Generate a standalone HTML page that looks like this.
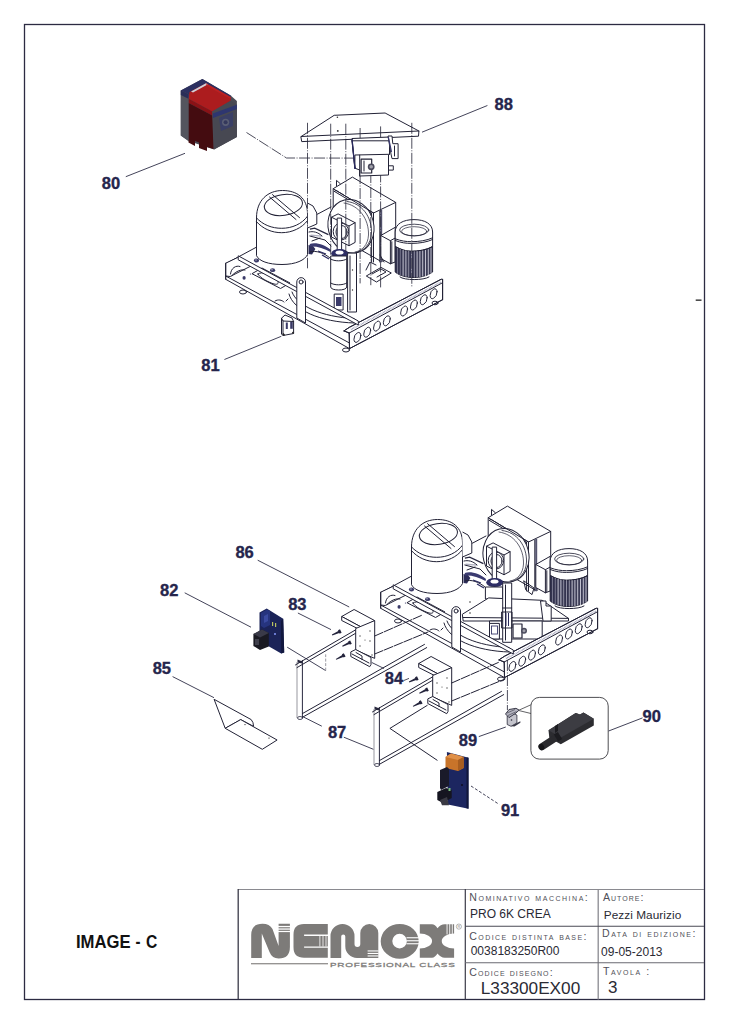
<!DOCTYPE html>
<html><head><meta charset="utf-8">
<style>
html,body{margin:0;padding:0;background:#fff;}
body{width:729px;height:1024px;overflow:hidden;position:relative;font-family:"Liberation Sans",sans-serif;}
svg{position:absolute;left:0;top:0;}
.lbl{font-family:"Liberation Sans",sans-serif;font-weight:bold;font-size:16.5px;fill:#25254c;stroke:#25254c;stroke-width:0.35;}
.ld{stroke:#2e2e46;stroke-width:0.9;fill:none;}
.sc{font-family:"Liberation Sans",sans-serif;font-size:10.6px;fill:#505058;font-variant:small-caps;letter-spacing:1px;}
.tv{font-family:"Liberation Sans",sans-serif;font-size:12px;fill:#2a2a34;}
.m{stroke:#222236;stroke-width:1;fill:none;stroke-linejoin:round;stroke-linecap:round;}
.mf{stroke:#222236;stroke-width:1;fill:#fff;stroke-linejoin:round;}
.dd{stroke:#2e2e40;stroke-width:0.85;fill:none;stroke-dasharray:11 1.5 1 1.5;}
</style></head>
<body>
<svg width="729" height="1024" viewBox="0 0 729 1024">


<g>
<!-- back rail (hidden mostly) -->
<path class="m" d="M226.2,263.5 L317.6,214.1 L331,207"/>
<!-- gearbox -->
<path class="mf" d="M333.2,188.7 L352.4,177.1 L395.7,202.4 L395.7,236 L382,244 L382,262 L333.2,234 Z"/>
<path class="m" d="M333.2,188.7 L373.5,213 L395.7,202.4 M373.5,213 L373.5,262 M379.8,211 L379.8,262 M334.3,191.4 L371.6,213.4 M371.6,213.4 L371.6,262 M336.5,186 L336.5,180.4 L340.3,183.7"/>
<path d="M381.2,210 L381.2,262" stroke="#555570" stroke-width="2"/>
<!-- fan disk -->
<ellipse class="mf" cx="351" cy="226.3" rx="22.8" ry="27" transform="rotate(-14 351 226.3)"/>
<path class="m" d="M347,201.5 C362,203 372,217 371.5,233 C371,244 364,251 356,252.5" stroke-width="0.5" stroke-opacity="0.8"/>
<path class="m" d="M344,203 C359,205 369,219 368.5,235 C368,245 362,251 355,252" stroke-width="0.5" stroke-opacity="0.7"/>
<path class="m" d="M334.3,191.4 L336,190.4 L373.5,213" stroke-width="0.6"/>
<!-- gear motor on disk -->
<path class="mf" d="M331.5,217.2 L338.1,213.9 L355.1,222.7 L355.1,242.4 L349,245.7 L331.5,237 Z"/>
<path class="m" d="M331.5,217.2 L349,226 L355.1,222.7 M349,226 L349,245.7"/>
<ellipse class="mf" cx="340.9" cy="231.5" rx="7.7" ry="8.5"/>
<ellipse class="m" cx="341.5" cy="232" rx="5.5" ry="6.5" stroke-width="0.5"/>
<!-- compressor -->
<path class="mf" d="M256.5,218 C256.5,200 268,190.5 282.5,190.5 C297,190.5 307.5,198 307.5,214 L307.5,254.6 C305,260 296,264.5 282,264.5 C268,264.5 259,261 256.5,255.7 Z"/>
<path class="m" d="M256.5,217.9 C263,225 272,228.3 281.7,228.3 C292,228.3 302,224 307.5,216.2 M256.5,221.7 C263,229 272,232.7 281.7,232.7 C292,232.7 302,228 307.5,220.6"/>
<ellipse class="m" cx="283.4" cy="205" rx="19.2" ry="10.4" transform="rotate(-8 283.4 205)"/>
<path class="m" d="M269.5,197 L296,219.5 M272.5,194.6 L299.5,217.6"/>
<path class="mf" d="M307.5,203 L313,206 L316.8,213 L316.8,224 L307.5,228"/>
<path d="M309.9,229.1 L314.7,228.1 L328.4,234.6" stroke="#282840" stroke-width="1.3" fill="none"/>
<path d="M310.6,234.6 L322.2,235.5 L322.2,236.7 L310.6,236" fill="#b0b0c0"/>
<path d="M308.5,244.9 L313,246 L315.4,249 L312,254.5 L308.5,254" fill="#2e2e5a"/>
<!-- motor terminal box -->
<path class="mf" d="M380.8,235.5 L395.2,227.3 L395.2,262 L390.4,263.8 L380.8,258.5 Z"/>
<path class="m" d="M380.8,235.5 L390.4,240.7 L395.2,238 M390.4,240.7 L390.4,263.8 M391.8,241.7 L391.8,262.8"/>
<!-- motor -->
<path class="mf" d="M395.2,246.5 L395.2,232 C395.2,224 403,219.6 414,219.6 C425,219.6 432.6,224 432.6,232 L432.6,246.5 C427,250 418,251.3 411.5,251.3 C407,251.3 401,250 395.2,246.5 Z"/>
<path d="M395.2,246.5 C401,250 407,251.3 411.5,251.3 C418,251.3 427,250 432.6,246.5 L432.6,272 C427,276 420,277.5 414,277.5 C407,277.5 400,276 395.2,272 Z" fill="#3c3c56" stroke="#222236" stroke-width="1"/>
<g stroke="#d0d0dc" stroke-width="0.9">
<path d="M397.5,248 L397.5,273.5 M400.3,249 L400.3,274.8 M403.1,249.8 L403.1,275.8 M405.9,250.4 L405.9,276.5 M408.7,250.9 L408.7,277 M411.5,251.2 L411.5,277.3 M414.3,251.3 L414.3,277.4 M417.1,251.2 L417.1,277.3 M419.9,251 L419.9,277 M422.7,250.6 L422.7,276.6 M425.5,250 L425.5,276 M428.3,249.2 L428.3,275 M431,248 L431,273.5"/>
</g>
<path d="M395.2,247 L402,250 L402,275.5 L395.2,272 Z" fill="#2a2a48" opacity="0.5"/>
<path d="M408,251 L416,251.3 L416,277.4 L408,277 Z" fill="#202040" opacity="0.3"/>
<ellipse class="m" cx="414.2" cy="230" rx="14.6" ry="5.8" stroke-width="0.6" stroke-opacity="0.8"/>
<ellipse class="m" cx="414.2" cy="231.3" rx="12.6" ry="4.6" stroke-width="0.4" stroke-opacity="0.7"/>
<path class="m" d="M395.2,238.8 C401,241 406,241.7 411.5,241.7 C419,241.7 427,240.5 432.6,237.8" stroke-width="0.7"/>
<path class="m" d="M395.2,240.5 C401,242.8 406,243.4 411.5,243.4 C419,243.4 427,242.2 432.6,239.5" stroke-width="0.5"/>
<path class="m" d="M400,277 C404,280.5 424,280.5 429,277"/>
<!-- central shaft and collar -->
<path class="mf" d="M337.2,218.1 L341.6,218.1 L341.6,252 L337.2,252 Z"/>
<ellipse cx="339.7" cy="253.5" rx="8.5" ry="4.5" fill="#2e2e66"/>
<ellipse cx="339.5" cy="252.5" rx="4" ry="2" fill="#fff"/>
<!-- pipes between compressor and center -->
<path d="M309.8,244 C316,242 325,245 331,250 L330.5,252 C324,248 316,246 309.8,246.5 Z" fill="#3a3a70"/>
<path class="m" d="M309.8,236 L325,240 L331,246 M310,252 C316,250 324,253 330,258 M312,241 L320,238 M309,232 C313,231 318,232 322,236"/>
<path d="M318,251 L326,254 M322,255 L329,259" stroke="#2a2a60" stroke-width="1.3"/>
</g>
<g id="topcenter">
<!-- central cylinder -->
<path class="mf" d="M330.7,256 L346.7,256 L346.7,287 C346.7,291 330.7,291 330.7,287 Z"/>
<path class="m" d="M330.7,259 C334,261.5 343,261.5 346.7,259 M330.7,283 C334,285.5 343,285.5 346.7,283"/>
<path class="mf" d="M347.6,253.1 L356.5,253.1 L356.5,312 L347.6,312 Z"/>
<path class="m" d="M350,256 L350,310 M356.5,253.1 L359,251.5"/>
<circle cx="352.5" cy="270" r="0.7" fill="#333"/>
<circle cx="352.5" cy="290" r="0.7" fill="#333"/>
<path class="mf" d="M334.2,294.1 L343.1,294.1 L343.1,310 L334.2,310 Z"/>
<rect x="336" y="297" width="5.5" height="9" fill="#3a3a6a"/>
<!-- small bracket near motor -->
<path class="mf" d="M366.3,276 L381,267.4 L391.3,273 L376.5,282 Z"/>
<path class="m" d="M372,274 L381,269 L386,272 L377,277"/>
<path class="m" d="M366,270 L370,262 L376,265 M380,255 L384,262"/>
</g>
<g>
<!-- floor plate / drip arc -->
<path class="m" d="M289,294 C293,310 320,322 354.4,323"/>
<path class="m" d="M292,292 C297,306 322,317 354,318.5"/>
<!-- left rail -->
<!-- tray floor details -->
<path class="m" d="M252.3,273.5 L262,268 L290,283 L280.9,288.3 Z M258,274 C262,271 270,274 276,279 C280,283 278,285 274,284 C268,282 260,278 258,274 Z" stroke-width="0.7"/>
<g fill="#3a3a68">
<ellipse cx="256.5" cy="260.5" rx="2.6" ry="1.9"/>
<ellipse cx="272.6" cy="270.2" rx="2.6" ry="1.9"/>
<ellipse cx="244.1" cy="277.9" rx="1.6" ry="1.8"/>
<ellipse cx="250.5" cy="274" rx="0.7" ry="0.5"/>
</g>
<g fill="#c8c8d8"><circle cx="256" cy="260" r="0.7"/><circle cx="272" cy="269.7" r="0.7"/></g>
<path class="m" d="M275,301 C278,299 282,300 284,302 M286,301 L288,299"/>
<path class="mf" d="M225.7,263.2 L237.6,257.5 L251,264.5 L251,266 L230.2,276.5 L225.7,276 Z"/>
<path class="m" d="M230.5,274 C231,268 236,265 240,266.5 M232,275.5 C236,271 242,269 245,270" stroke-width="0.7"/>
<path class="mf" d="M225.7,276 L349.5,343 L349.5,348.6 L225.7,279.3 Z"/>
<path class="m" d="M225.7,263.2 L225.7,279.3"/>
<!-- right rail -->
<path class="mf" d="M343.9,330.9 L349.6,327.2 L441.1,279.3 L442.6,279.3 L442.6,299.7 L349.5,348.6 L349.2,333 Z"/>
<path class="m" d="M343.9,330.9 L349.6,327.2 L441.1,279.3 M349.2,333 L442,283 M349.5,348.6 L442.6,299.7 M442.6,279.3 L442.6,299.7 M349.2,333 L349.5,348.6 M343.9,330.9 L349.2,333"/>
<path d="M351,329.5 L441,282" stroke="#8888a8" stroke-width="1.6" stroke-dasharray="0.6 0.8"/>
<g class="m" stroke-width="0.9">
<circle r="4.6" transform="matrix(0.75,-0.42,0,1,357.4,337.4)"/>
<circle r="4.6" transform="matrix(0.75,-0.42,0,1,367.2,332.2)"/>
<circle r="4.6" transform="matrix(0.75,-0.42,0,1,377,326.1)"/>
<circle r="4.6" transform="matrix(0.75,-0.42,0,1,386.8,320.8)"/>
<circle r="4.6" transform="matrix(0.75,-0.42,0,1,404.1,311)"/>
<circle r="4.6" transform="matrix(0.75,-0.42,0,1,413.9,305)"/>
<circle r="4.6" transform="matrix(0.75,-0.42,0,1,423.7,299.7)"/>
<circle r="4.6" transform="matrix(0.75,-0.42,0,1,433.6,293.7)"/>
</g>
<!-- crossbar -->
<path class="mf" d="M238.2,255.8 L358.3,321 L358.3,325 L238.2,259.8 Z"/>
<!-- vertical bracket on bar -->
<path class="mf" d="M296.8,282 A4.35 4.35 0 0 1 305.5,282 L305.5,323 L296.8,318 Z"/>
<circle class="m" cx="301.1" cy="282" r="2"/>
<!-- feet -->
<ellipse class="m" cx="243" cy="292" rx="3.5" ry="2"/>
<ellipse class="m" cx="346" cy="350" rx="3.5" ry="2"/>
<ellipse class="m" cx="435" cy="303" rx="3" ry="1.8"/>
</g>
<g transform="translate(155,329)">
<!-- back rail (hidden mostly) -->
<path class="m" d="M226.2,263.5 L317.6,214.1 L331,207"/>
<!-- gearbox -->
<path class="mf" d="M333.2,188.7 L352.4,177.1 L395.7,202.4 L395.7,236 L382,244 L382,262 L333.2,234 Z"/>
<path class="m" d="M333.2,188.7 L373.5,213 L395.7,202.4 M373.5,213 L373.5,262 M379.8,211 L379.8,262 M334.3,191.4 L371.6,213.4 M371.6,213.4 L371.6,262 M336.5,186 L336.5,180.4 L340.3,183.7"/>
<path d="M381.2,210 L381.2,262" stroke="#555570" stroke-width="2"/>
<!-- fan disk -->
<ellipse class="mf" cx="351" cy="226.3" rx="22.8" ry="27" transform="rotate(-14 351 226.3)"/>
<path class="m" d="M347,201.5 C362,203 372,217 371.5,233 C371,244 364,251 356,252.5" stroke-width="0.5" stroke-opacity="0.8"/>
<path class="m" d="M344,203 C359,205 369,219 368.5,235 C368,245 362,251 355,252" stroke-width="0.5" stroke-opacity="0.7"/>
<path class="m" d="M334.3,191.4 L336,190.4 L373.5,213" stroke-width="0.6"/>
<!-- gear motor on disk -->
<path class="mf" d="M331.5,217.2 L338.1,213.9 L355.1,222.7 L355.1,242.4 L349,245.7 L331.5,237 Z"/>
<path class="m" d="M331.5,217.2 L349,226 L355.1,222.7 M349,226 L349,245.7"/>
<ellipse class="mf" cx="340.9" cy="231.5" rx="7.7" ry="8.5"/>
<ellipse class="m" cx="341.5" cy="232" rx="5.5" ry="6.5" stroke-width="0.5"/>
<!-- compressor -->
<path class="mf" d="M256.5,218 C256.5,200 268,190.5 282.5,190.5 C297,190.5 307.5,198 307.5,214 L307.5,254.6 C305,260 296,264.5 282,264.5 C268,264.5 259,261 256.5,255.7 Z"/>
<path class="m" d="M256.5,217.9 C263,225 272,228.3 281.7,228.3 C292,228.3 302,224 307.5,216.2 M256.5,221.7 C263,229 272,232.7 281.7,232.7 C292,232.7 302,228 307.5,220.6"/>
<ellipse class="m" cx="283.4" cy="205" rx="19.2" ry="10.4" transform="rotate(-8 283.4 205)"/>
<path class="m" d="M269.5,197 L296,219.5 M272.5,194.6 L299.5,217.6"/>
<path class="mf" d="M307.5,203 L313,206 L316.8,213 L316.8,224 L307.5,228"/>
<path d="M309.9,229.1 L314.7,228.1 L328.4,234.6" stroke="#282840" stroke-width="1.3" fill="none"/>
<path d="M310.6,234.6 L322.2,235.5 L322.2,236.7 L310.6,236" fill="#b0b0c0"/>
<path d="M308.5,244.9 L313,246 L315.4,249 L312,254.5 L308.5,254" fill="#2e2e5a"/>
<!-- motor terminal box -->
<path class="mf" d="M380.8,235.5 L395.2,227.3 L395.2,262 L390.4,263.8 L380.8,258.5 Z"/>
<path class="m" d="M380.8,235.5 L390.4,240.7 L395.2,238 M390.4,240.7 L390.4,263.8 M391.8,241.7 L391.8,262.8"/>
<!-- motor -->
<path class="mf" d="M395.2,246.5 L395.2,232 C395.2,224 403,219.6 414,219.6 C425,219.6 432.6,224 432.6,232 L432.6,246.5 C427,250 418,251.3 411.5,251.3 C407,251.3 401,250 395.2,246.5 Z"/>
<path d="M395.2,246.5 C401,250 407,251.3 411.5,251.3 C418,251.3 427,250 432.6,246.5 L432.6,272 C427,276 420,277.5 414,277.5 C407,277.5 400,276 395.2,272 Z" fill="#3c3c56" stroke="#222236" stroke-width="1"/>
<g stroke="#d0d0dc" stroke-width="0.9">
<path d="M397.5,248 L397.5,273.5 M400.3,249 L400.3,274.8 M403.1,249.8 L403.1,275.8 M405.9,250.4 L405.9,276.5 M408.7,250.9 L408.7,277 M411.5,251.2 L411.5,277.3 M414.3,251.3 L414.3,277.4 M417.1,251.2 L417.1,277.3 M419.9,251 L419.9,277 M422.7,250.6 L422.7,276.6 M425.5,250 L425.5,276 M428.3,249.2 L428.3,275 M431,248 L431,273.5"/>
</g>
<path d="M395.2,247 L402,250 L402,275.5 L395.2,272 Z" fill="#2a2a48" opacity="0.5"/>
<path d="M408,251 L416,251.3 L416,277.4 L408,277 Z" fill="#202040" opacity="0.3"/>
<ellipse class="m" cx="414.2" cy="230" rx="14.6" ry="5.8" stroke-width="0.6" stroke-opacity="0.8"/>
<ellipse class="m" cx="414.2" cy="231.3" rx="12.6" ry="4.6" stroke-width="0.4" stroke-opacity="0.7"/>
<path class="m" d="M395.2,238.8 C401,241 406,241.7 411.5,241.7 C419,241.7 427,240.5 432.6,237.8" stroke-width="0.7"/>
<path class="m" d="M395.2,240.5 C401,242.8 406,243.4 411.5,243.4 C419,243.4 427,242.2 432.6,239.5" stroke-width="0.5"/>
<path class="m" d="M400,277 C404,280.5 424,280.5 429,277"/>
<!-- central shaft and collar -->
<path class="mf" d="M337.2,218.1 L341.6,218.1 L341.6,252 L337.2,252 Z"/>
<ellipse cx="339.7" cy="253.5" rx="8.5" ry="4.5" fill="#2e2e66"/>
<ellipse cx="339.5" cy="252.5" rx="4" ry="2" fill="#fff"/>
<!-- pipes between compressor and center -->
<path d="M309.8,244 C316,242 325,245 331,250 L330.5,252 C324,248 316,246 309.8,246.5 Z" fill="#3a3a70"/>
<path class="m" d="M309.8,236 L325,240 L331,246 M310,252 C316,250 324,253 330,258 M312,241 L320,238 M309,232 C313,231 318,232 322,236"/>
<path d="M318,251 L326,254 M322,255 L329,259" stroke="#2a2a60" stroke-width="1.3"/>
</g>
<g id="lowcenter">
<path class="mf" d="M485.4,587 L502.7,587 L502.7,599 L485.4,599 Z"/>
<!-- installed plate -->
<path class="mf" d="M462.3,614.3 L488.7,597.9 L542.2,600.3 L568.5,618.4 L568.5,621 L463.2,621 Z"/>
<path class="m" d="M463.2,617.5 L568.5,618.4"/>
<circle cx="470" cy="602" r="0.8" fill="#333"/>
<circle cx="470" cy="613" r="0.8" fill="#333"/>
<!-- device under plate -->
<path class="mf" d="M489.5,621 L542.2,621 L542.2,639 L489.5,639 Z"/>
<path class="mf" d="M489.5,623.4 L499.4,623.4 L499.4,639 L489.5,639 Z"/>
<rect x="491.5" y="626" width="6" height="8" fill="none" stroke="#3a3a6a" stroke-width="0.9"/>
<path class="mf" d="M513,624 L522,624 L522,638 L513,638 Z" style="stroke-width:1.2"/>
<circle cx="524" cy="630.8" r="3" fill="#4a4a5c"/>
<circle cx="524" cy="630.8" r="1.5" fill="#a0a0aa"/>
<path class="mf" d="M540.5,601 L546,601 L546,606 L551.2,606 L551.2,621 L543,621 Z"/>
<!-- vertical column -->
<path class="mf" d="M502.7,583 L511.7,583 L511.7,642.3 L502.7,642.3 Z"/>
<path class="m" d="M505.5,585 L505.5,640 M502.7,608 L511.7,608 M502,612 L512,612 L512,628 L502,628 Z"/>
<path d="M506,613 L506,626 M508.5,613 L508.5,626" stroke="#2a2a5a" stroke-width="1"/>
<path class="m" d="M524,581 L534,588 L532,594.6 L526,590 Z"/>
</g>
<g transform="translate(155,329)">
<!-- floor plate / drip arc -->
<path class="m" d="M289,294 C293,310 320,322 354.4,323"/>
<path class="m" d="M292,292 C297,306 322,317 354,318.5"/>
<!-- left rail -->
<!-- tray floor details -->
<path class="m" d="M252.3,273.5 L262,268 L290,283 L280.9,288.3 Z M258,274 C262,271 270,274 276,279 C280,283 278,285 274,284 C268,282 260,278 258,274 Z" stroke-width="0.7"/>
<g fill="#3a3a68">
<ellipse cx="256.5" cy="260.5" rx="2.6" ry="1.9"/>
<ellipse cx="272.6" cy="270.2" rx="2.6" ry="1.9"/>
<ellipse cx="244.1" cy="277.9" rx="1.6" ry="1.8"/>
<ellipse cx="250.5" cy="274" rx="0.7" ry="0.5"/>
</g>
<g fill="#c8c8d8"><circle cx="256" cy="260" r="0.7"/><circle cx="272" cy="269.7" r="0.7"/></g>
<path class="m" d="M275,301 C278,299 282,300 284,302 M286,301 L288,299"/>
<path class="mf" d="M225.7,263.2 L237.6,257.5 L251,264.5 L251,266 L230.2,276.5 L225.7,276 Z"/>
<path class="m" d="M230.5,274 C231,268 236,265 240,266.5 M232,275.5 C236,271 242,269 245,270" stroke-width="0.7"/>
<path class="mf" d="M225.7,276 L349.5,343 L349.5,348.6 L225.7,279.3 Z"/>
<path class="m" d="M225.7,263.2 L225.7,279.3"/>
<!-- right rail -->
<path class="mf" d="M343.9,330.9 L349.6,327.2 L441.1,279.3 L442.6,279.3 L442.6,299.7 L349.5,348.6 L349.2,333 Z"/>
<path class="m" d="M343.9,330.9 L349.6,327.2 L441.1,279.3 M349.2,333 L442,283 M349.5,348.6 L442.6,299.7 M442.6,279.3 L442.6,299.7 M349.2,333 L349.5,348.6 M343.9,330.9 L349.2,333"/>
<path d="M351,329.5 L441,282" stroke="#8888a8" stroke-width="1.6" stroke-dasharray="0.6 0.8"/>
<g class="m" stroke-width="0.9">
<circle r="4.6" transform="matrix(0.75,-0.42,0,1,357.4,337.4)"/>
<circle r="4.6" transform="matrix(0.75,-0.42,0,1,367.2,332.2)"/>
<circle r="4.6" transform="matrix(0.75,-0.42,0,1,377,326.1)"/>
<circle r="4.6" transform="matrix(0.75,-0.42,0,1,386.8,320.8)"/>
<circle r="4.6" transform="matrix(0.75,-0.42,0,1,404.1,311)"/>
<circle r="4.6" transform="matrix(0.75,-0.42,0,1,413.9,305)"/>
<circle r="4.6" transform="matrix(0.75,-0.42,0,1,423.7,299.7)"/>
<circle r="4.6" transform="matrix(0.75,-0.42,0,1,433.6,293.7)"/>
</g>
<!-- crossbar -->
<path class="mf" d="M238.2,255.8 L358.3,321 L358.3,325 L238.2,259.8 Z"/>
<!-- vertical bracket on bar -->
<path class="mf" d="M296.8,282 A4.35 4.35 0 0 1 305.5,282 L305.5,323 L296.8,318 Z"/>
<circle class="m" cx="301.1" cy="282" r="2"/>
<!-- feet -->
<ellipse class="m" cx="243" cy="292" rx="3.5" ry="2"/>
<ellipse class="m" cx="346" cy="350" rx="3.5" ry="2"/>
<ellipse class="m" cx="435" cy="303" rx="3" ry="1.8"/>
</g>




<!-- exploded left parts -->
<g id="set1">
<!-- plate 87 -->
<path d="M297,662 L297,718" stroke="#a0a0a8" stroke-width="1.1"/>
<path d="M302.4,660 L302.4,718.5" stroke="#2a2a40" stroke-width="1"/>
<path d="M297.5,659.5 L302.4,661.5 L302.4,663.5 L297.5,662.5 Z" fill="#2a2a40"/>
<path class="m" d="M295.5,664.9 L360.5,627 M297,667.6 L358.5,631.6" stroke-width="0.8"/>
<path class="m" d="M302.4,717.3 L426.7,647.6 M302.4,713.6 L424.5,644.4" stroke-width="0.8"/>
<ellipse cx="300" cy="718" rx="2.5" ry="1.5" fill="none" stroke="#2a2a40" stroke-width="0.8"/>
<!-- bracket 86 -->
<path class="mf" d="M341.7,616.5 L354.1,609.5 L374.7,620.6 L361.5,627.2 Z"/>
<path class="mf" d="M341.7,616.5 L361.5,627.2 L361.5,630.5 L341.7,620.5 Z"/>
<path class="mf" d="M355.7,628.5 L374.7,620.6 L374.7,658.4 L355.7,650 Z"/>
<path class="mf" d="M350.8,651.9 L355.7,649.5 L371,657.5 L371,664.5 L369.7,666.7 L350.8,656.5 Z"/>
<path class="m" d="M352,654 L369,663 M356,652.5 L362,656 L362,659.5"/>
<g fill="#444"><circle cx="360" cy="636" r="0.7"/><circle cx="370" cy="631" r="0.7"/><circle cx="360" cy="646" r="0.7"/><circle cx="370" cy="641" r="0.7"/><circle cx="365" cy="640" r="0.6"/><circle cx="372" cy="655" r="0.7"/></g>
<!-- screws 83 -->
<g fill="#24243c">
<path d="M332.3,635.6 L339.3,632.9 L339.6,633.7 L341.6,632.7 L340.0,629.3 L338.0,630.2 L338.3,630.9 L331.9,634.6 Z"/>
<path d="M342.6,646.7 L349.5,644.0 L349.8,644.8 L351.8,643.8 L350.2,640.4 L348.2,641.3 L348.5,642.1 L342.2,645.7 Z"/>
<path d="M336.2,659.8 L343.3,656.9 L343.6,657.6 L345.6,656.6 L343.8,653.2 L341.9,654.2 L342.2,654.9 L335.8,659.0 Z"/>
</g>
<!-- explosion lines to machine -->
<path class="m" d="M374.7,636 L422.4,615 M374.7,654 L428,632" stroke-width="0.7" stroke-dasharray="9 1.5"/>
</g>
<g transform="translate(77,47)">
<!-- plate 87 -->
<path d="M297,662 L297,718" stroke="#a0a0a8" stroke-width="1.1"/>
<path d="M302.4,660 L302.4,718.5" stroke="#2a2a40" stroke-width="1"/>
<path d="M297.5,659.5 L302.4,661.5 L302.4,663.5 L297.5,662.5 Z" fill="#2a2a40"/>
<path class="m" d="M295.5,664.9 L360.5,627 M297,667.6 L358.5,631.6" stroke-width="0.8"/>
<path class="m" d="M302.4,717.3 L426.7,647.6 M302.4,713.6 L424.5,644.4" stroke-width="0.8"/>
<ellipse cx="300" cy="718" rx="2.5" ry="1.5" fill="none" stroke="#2a2a40" stroke-width="0.8"/>
<!-- bracket 86 -->
<path class="mf" d="M341.7,616.5 L354.1,609.5 L374.7,620.6 L361.5,627.2 Z"/>
<path class="mf" d="M341.7,616.5 L361.5,627.2 L361.5,630.5 L341.7,620.5 Z"/>
<path class="mf" d="M355.7,628.5 L374.7,620.6 L374.7,658.4 L355.7,650 Z"/>
<path class="mf" d="M350.8,651.9 L355.7,649.5 L371,657.5 L371,664.5 L369.7,666.7 L350.8,656.5 Z"/>
<path class="m" d="M352,654 L369,663 M356,652.5 L362,656 L362,659.5"/>
<g fill="#444"><circle cx="360" cy="636" r="0.7"/><circle cx="370" cy="631" r="0.7"/><circle cx="360" cy="646" r="0.7"/><circle cx="370" cy="641" r="0.7"/><circle cx="365" cy="640" r="0.6"/><circle cx="372" cy="655" r="0.7"/></g>
<!-- screws 83 -->
<g fill="#24243c">
<path d="M332.3,635.6 L339.3,632.9 L339.6,633.7 L341.6,632.7 L340.0,629.3 L338.0,630.2 L338.3,630.9 L331.9,634.6 Z"/>
<path d="M342.6,646.7 L349.5,644.0 L349.8,644.8 L351.8,643.8 L350.2,640.4 L348.2,641.3 L348.5,642.1 L342.2,645.7 Z"/>
<path d="M336.2,659.8 L343.3,656.9 L343.6,657.6 L345.6,656.6 L343.8,653.2 L341.9,654.2 L342.2,654.9 L335.8,659.0 Z"/>
</g>
<!-- explosion lines to machine -->
<path class="m" d="M374.7,636 L422.4,615 M374.7,654 L428,632" stroke-width="0.7" stroke-dasharray="9 1.5"/>
</g>
<!-- PCB 82 dashed -->
<path class="ld" d="M287.2,647.2 L325.7,670.6"/>
<path d="M325.7,670.6 L325.7,654.3" stroke="#909098" stroke-width="0.9" stroke-dasharray="3 1.5"/>
<!-- 84 leader -->
<path class="ld" d="M371.8,662.5 L384,668.5"/>
<path class="dd" d="M403.6,680.6 L409,678.4"/>
<!-- 87 leaders -->
<path class="ld" d="M321.8,726.2 L302.1,716.3 M343.8,737.2 L373.4,749.3"/>
<!-- 91 dashed -->
<path class="m" d="M437.1,760.2 L389.9,728.4 L427.2,705.4" stroke-width="0.8"/>
<!-- PCB 82 -->
<g id="pcb82">
<path d="M259.5,612.5 L266.7,608.4 L283.2,618.7 L284.2,652.6 L281.2,653.6 L259.5,641 Z" fill="#1b2358"/>
<path d="M283.2,618.7 L284.2,652.6 L281.2,653.6 L281,621 Z" fill="#12183e"/>
<path d="M261,613 L267,609.5 L270,611 L270,625 L264,628 L261,626 Z" fill="#26347e"/>
<path d="M264,616 L268,614 L268,621 L264,623 Z" fill="#3a4aa0"/>
<path d="M253.4,634 L262,629.5 L268.8,633 L268.8,646.4 L260,650 L253.4,646 Z" fill="#1a1a22"/>
<path d="M253.4,634 L262,629.5 L268.8,633 L260,637.5 Z" fill="#3a3a48"/>
<rect x="255" y="639" width="4" height="6" fill="#40404c"/>
<rect x="272" y="622" width="1.2" height="4" fill="#b8c060"/>
<rect x="275" y="623" width="1.2" height="4" fill="#b8c060"/>
<rect x="274" y="633" width="2" height="2" fill="#6a7ad0"/>
</g>
<!-- bracket 85 -->
<g id="b85">
<path class="mf" d="M214.1,699.3 L251.2,719.6 Q253.5,722 253.6,726.4 L240.7,719.6 L225.2,728.3 Z"/>
<path class="mf" d="M225.2,728.3 L240.7,719.6 L277.1,740 L262.3,749.3 Z"/>
<circle cx="245" cy="724.6" r="0.7" fill="#333"/>
<circle cx="269" cy="738.1" r="0.7" fill="#333"/>
</g>


<!-- item 89/90 -->
<path class="dd" d="M507.4,660 L507.4,710"/>
<rect x="530.9" y="697.4" width="77.3" height="61.7" rx="8.5" fill="none" stroke="#3a3a3e" stroke-width="0.9"/>
<path d="M530.9,704.8 L519.1,710.1 M531,713.5 L519.1,710.6" stroke="#3a3a3e" stroke-width="0.8" fill="none"/>
<g id="i89">
<path d="M507.2,716 L513.5,713.5 L516.9,715 L516.9,723 L511,726.3 L507.2,724.5 Z" fill="#c4c4cc" stroke="#2a2a3a" stroke-width="0.8"/>
<path d="M511,726.3 L516.9,723 L520.4,721.3 L520.4,722.8 L514.5,726.5 Z" fill="#3a3a48"/>
<path d="M505.5,714 L509,709.5 L516,708.3 L519.1,710.1 L516,713 L509,717.6 Z" fill="#b4b4c0" stroke="#2a2a3a" stroke-width="0.9"/>
<path d="M507,713 L515,709.5 M508,715.5 L516.5,711.5" stroke="#4a4a58" stroke-width="0.7"/>
<circle cx="511.5" cy="720" r="0.8" fill="#2a2a3a"/>
</g>
<g id="i90">
<path d="M548.5,730.3 L575.7,713 L580,714.5 L583.5,712.5 L593.8,718.8 L593.8,725.4 L560.8,744.3 L549.3,737.7 Z" fill="#2c2c30"/>
<path d="M548.5,730.3 L575.7,713 L580,714.5 L583.5,712.5 L593.8,718.8 L561,737.5 Z" fill="#3c3c42"/>
<path d="M555,726 L558,724 L558,731 L555,733 Z" fill="#1c1c20"/>
<path d="M541.9,746.8 L556.5,737.3" stroke="#2a2a2e" stroke-width="7" stroke-linecap="round"/>
<path d="M556,738 L560,735.5" stroke="#1c1c20" stroke-width="8"/>
<ellipse cx="541.5" cy="747" rx="2.6" ry="3.2" fill="#151518" transform="rotate(-30 541.5 747)"/>
</g>
<!-- PCB 91 -->
<g id="pcb91">
<path d="M446.9,752 L468.5,757.8 L468.5,808.7 L447.9,804.4 Z" fill="#1c2660"/>
<path d="M466.5,757.3 L468.5,757.8 L468.5,808.7 L466.5,808.2 Z" fill="#10163a"/>
<path d="M445.5,757 L451,753.5 L463.7,757 L463.7,768 L458,771 L445.5,768 Z" fill="#c8742a"/>
<path d="M445.5,757 L451,753.5 L463.7,757 L458,760 Z" fill="#e09048"/>
<path d="M458,760 L463.7,757 L463.7,768 L458,771 Z" fill="#a85e20"/>
<path d="M440,770 L447,767 L449,769 L449,786 L441,790 L440,788 Z" fill="#1a1a2a"/>
<path d="M437.3,792 L446,788 L451.7,790 L451.7,798 L443,803 L437.3,800 Z" fill="#151520"/>
<path d="M440,800 L447,797 L449,805.3 L442,805.3 Z" fill="#3a3a44"/>
<rect x="448.5" y="788" width="2" height="3" fill="#7ac080"/>
<circle cx="462" cy="785" r="1" fill="#0c0c20"/>
</g>

<!-- dashed explosion lines (top) -->
<g class="dd">
<line x1="307.5" y1="122.8" x2="307.5" y2="268.3"/>
<line x1="330.7" y1="123.7" x2="330.7" y2="256"/>
<line x1="345.8" y1="123.7" x2="345.8" y2="252"/>
<line x1="360.1" y1="128" x2="360.1" y2="283.4"/>
<line x1="370.8" y1="172" x2="370.8" y2="285.2"/>
<line x1="380.6" y1="126.4" x2="380.6" y2="288.8"/>
<line x1="411.8" y1="122.8" x2="411.8" y2="287"/>
<polyline points="246.5,132.5 286.5,158 353.8,158.1"/>
</g>
<!-- plate 88 -->
<path class="m" d="M301.2,136.5 L334.2,115.3 L385.1,113 L418.9,131 L418.5,136.2 L302.1,141.6 Z"/>
<path class="m" d="M301.2,136.5 L418.9,131"/>
<circle cx="337.4" cy="117.3" r="0.8" fill="#333"/>
<circle cx="337.8" cy="130.9" r="0.9" fill="#333"/>
<!-- hanging device -->
<path class="mf" d="M352,138.5 L389.5,137 L389.5,154.3 L388.5,155 L388.5,175 L359.7,176 L359.7,170 L354.9,168.2 Z"/>
<path class="m" d="M352,140.8 L389.5,140.8 M354.9,168.2 L354.9,155 L389.5,154.3 M359.7,155.2 L359.7,176 M352,140.8 L354.9,168.2"/>
<path d="M352,139 L354.9,168.2 L356,168" stroke="#2a2a60" stroke-width="1.3" fill="none"/>
<path class="mf" d="M361.1,159.1 L371.7,159.1 L371.7,173 L361.1,173 Z" style="stroke-width:1.2"/>
<path class="m" d="M364,161 L364,171"/>
<circle cx="371.2" cy="166.8" r="3.4" fill="#4a4a5c"/>
<circle cx="371.2" cy="166.8" r="1.8" fill="#a0a0aa"/>
<path class="mf" d="M388,136 L392,136 L392.8,143.7 L398.1,143.7 L398.1,158.6 L392,158.6 L391,154 Z"/>
<path class="m" d="M394.5,146 L394.5,156 M389,165.8 L393.3,165.8 L393.3,170.1 L389,170.1"/>
<path d="M388.3,137 L391.5,152" stroke="#3a3a70" stroke-width="1.2"/>


<!-- item 81 -->
<g id="i81">
<path class="mf" d="M281.5,318.2 L285,315 L292,318 L293.6,321.5 L293.6,333.5 L283,335.5 L281.5,334 Z" style="stroke-width:1"/>
<path class="m" d="M281.5,318.2 L283,321 L293.6,321.5 M283,321 L283,335.5"/>
<rect x="285.8" y="322.5" width="2" height="6.5" fill="#3a3a66"/>
<rect x="290.2" y="322" width="2.6" height="6.8" fill="#3a3a66"/>
<path d="M283,333.5 L284.5,335.5 M292.5,332 L293.6,333.5" stroke="#222" stroke-width="1.5"/>
</g>
<rect x="695.7" y="299.5" width="5.8" height="1.3" fill="#222"/>

<!-- item 80 red box -->
<g id="i80">
<path d="M180.8,90.4 L202.4,79.1 L230.7,95.5 L236.9,101 L236.9,137 L214,149.5 L188.5,141 L180.8,135.5 Z" fill="#4b4b55"/>
<path d="M180.8,90.4 L202.4,79.1 L230.7,95.5 L230.7,100 L212,111 L189,98 Z" fill="#2c3060"/>
<path d="M189.5,92 L206,83.2 L230.7,97.1 L230.7,100.7 L212.2,111.5 L188.5,98.7 Z" fill="#ac1c1e"/>
<path d="M188.5,98.7 L212.2,111.5 L212.2,115.5 L188.5,103 Z" fill="#8a1216"/>
<path d="M191,91.5 L206,83.2 L208,84.3 L193,92.6 Z" fill="#d0d0d8"/>
<path d="M206,83.2 L230.7,97.1 L230.7,99 L206,85.5 Z" fill="#c42426" opacity="0.6"/>
<path d="M188.5,103 L212.2,115.5 L213.5,149 L207,147 L207,151 L199,148 L199,142.5 L195,141 L195,146 L188.5,142.5 Z" fill="#440c10"/>
<path d="M212.2,111.5 L230.7,100.7 L236.9,104.8 L236.9,137 L214,149.5 L213.5,115 Z" fill="#474852"/>
<path d="M212.8,113.5 L236.9,104.8 L236.9,109 L213,118 Z" fill="#2e3670"/>
<path d="M219,118 L233,112 L233,126 L221,131 Z" fill="#3a3f66"/>
<circle cx="225.6" cy="122.3" r="3.6" fill="#5a5e74"/>
<circle cx="225.6" cy="122.3" r="2" fill="#34385c"/>
<path d="M180.8,90.4 L188.5,94 L188.5,141 L180.8,135.5 Z" fill="#54555e"/>
<path d="M180.8,90.4 L188.5,94 L188.5,98.7 L180.8,95 Z" fill="#2a2e58"/>
</g>

<!-- page border -->
<rect x="24.5" y="24.5" width="680" height="975" fill="none" stroke="#2c2b42" stroke-width="1.3"/>

<!-- title block -->
<g id="tb">
<line x1="238" y1="889.5" x2="704" y2="889.5" stroke="#8a8a90" stroke-width="1.2"/>
<line x1="238.2" y1="889" x2="238.2" y2="999.5" stroke="#3a3a48" stroke-width="1.3"/>
<line x1="465.3" y1="889" x2="465.3" y2="999.5" stroke="#3a3a48" stroke-width="1.2"/>
<line x1="598.2" y1="889" x2="598.2" y2="999.5" stroke="#8a8a90" stroke-width="1.3"/>
<line x1="465" y1="926.3" x2="704" y2="926.3" stroke="#4a4a55" stroke-width="1.1"/>
<line x1="465" y1="962.8" x2="704" y2="962.8" stroke="#6a6a72" stroke-width="1.1"/>
</g>

<!-- NEMOX logo -->
<g id="logo" fill="#7d7b79">
<path d="M251.2,958 L251.2,935 Q251.2,923.8 262.5,923.8 Q269.5,923.8 272.5,929 L278.6,946 L278.6,923.8 L289.9,923.8 L289.9,947 Q289.9,958.5 278.6,958.5 Q272,958.5 269.5,952 L261.8,933.5 L261.8,958 Z"/>
<path d="M304,923.9 L327.8,923.9 L327.8,934.5 L304.1,934.5 L304.1,936 L327.8,936 L327.8,946.5 L304.1,946.5 L304.1,947.8 L327.8,947.8 L327.8,957.8 L304,957.8 Q293.5,957.8 293.5,947.3 L293.5,934.4 Q293.5,923.9 304,923.9 Z"/>
</g>
<g fill="#7d7b79">
<path d="M330.5,957.9 L330.5,936 A12 12 0 0 1 354.5,936 L354.5,944 A2.9 2.9 0 0 0 360.3,944 L360.3,933 A9 9 0 0 1 378.3,933 L378.3,957.9 L357,957.9 A11.7 11.7 0 0 1 345.3,946.2 L345.3,936.5 A2.05 2.05 0 0 0 341.2,936.5 L341.2,957.9 Z"/>
<path fill-rule="evenodd" d="M380.7,941.3 A19 17.4 0 1 0 418.7,941.3 A19 17.4 0 1 0 380.7,941.3 Z M392.3,941.1 A7.3 7.3 0 1 0 406.9,941.1 A7.3 7.3 0 1 0 392.3,941.1 Z"/>
<path d="M419.8,924.2 L432,924.2 Q435,924.3 437.5,928.3 Q440.5,924.3 444.8,924.2 L454.1,924.2 L454.1,933.4 A12.4 7.6 0 0 0 454.1,948.6 L454.1,957.8 L444.8,957.8 Q440.5,957.7 437.5,953.6 Q435,957.7 432,957.8 L419.8,957.8 L419.8,948.6 A12.3 7.6 0 0 0 419.8,933.4 Z"/>
<rect x="251" y="963.2" width="77" height="1.1"/>
</g>
<text transform="translate(330,967) scale(1.6,1)" x="0" y="0" textLength="78" lengthAdjust="spacing" style="font-family:'Liberation Sans',sans-serif;font-size:6.2px;fill:#7d7b79;stroke:#7d7b79;stroke-width:0.25">PROFESSIONAL CLASS</text>
<circle cx="458.9" cy="926.6" r="2.6" fill="none" stroke="#8a8886" stroke-width="0.6"/>
<text x="457.6" y="928.2" style="font-family:'Liberation Sans',sans-serif;font-size:4px;fill:#8a8886">R</text>
<g fill="#fff">
<rect x="367.6" y="950.4" width="11" height="1.1"/>
<rect x="367.6" y="952.9" width="11" height="1.1"/>
<rect x="367.6" y="955.4" width="11" height="1.1"/>
<rect x="406.5" y="937.2" width="13" height="1.1"/>
<rect x="406.5" y="940.2" width="13" height="1.1"/>
<rect x="406.5" y="943.2" width="13" height="1.1"/>
<rect x="446.6" y="923.5" width="0.9" height="11"/>
<rect x="449.3" y="923.5" width="0.9" height="11"/>
<rect x="451.8" y="923.5" width="0.9" height="11"/>
<rect x="278" y="925.9" width="12.5" height="1.3"/>
<rect x="278" y="928.4" width="12.5" height="1.3"/>
<rect x="278" y="930.9" width="12.5" height="1.2"/>
<rect x="319.5" y="936" width="0.8" height="10.5"/>
<rect x="322.6" y="936" width="0.8" height="10.5"/>
<rect x="325.6" y="936" width="0.8" height="10.5"/>
</g>

<!-- title block text -->
<g>
<text class="sc" textLength="119.5" lengthAdjust="spacing" x="469.3" y="901">Nominativo macchina:</text>
<text class="tv" x="470" y="918">PRO 6K CREA</text>
<text class="sc" textLength="118.2" lengthAdjust="spacing" x="469.3" y="940">Codice distinta base:</text>
<text class="tv" x="470.7" y="954.6">0038183250R00</text>
<text class="sc" textLength="84.3" lengthAdjust="spacing" x="469.3" y="975.6">Codice disegno:</text>
<text class="tv" x="480.8" y="993.7" style="font-size:17.2px">L33300EX00</text>
<text class="sc" textLength="41.6" lengthAdjust="spacing" x="602.9" y="901">Autore:</text>
<text class="tv" x="603.7" y="919.1" style="font-size:11.8px" textLength="77.5" lengthAdjust="spacing">Pezzi Maurizio</text>
<text class="sc" textLength="94.5" lengthAdjust="spacing" x="602" y="937.4">Data di edizione:</text>
<text class="tv" x="601.1" y="956">09-05-2013</text>
<text class="sc" textLength="47.3" lengthAdjust="spacing" x="602.9" y="975.2">Tavola :</text>
<text class="tv" x="608" y="993.2" style="font-size:17px">3</text>
</g>

<g style="font-family:'Liberation Sans',sans-serif;font-weight:bold;font-size:18.2px;fill:#111">
<text x="75.9" y="947.9" textLength="54.7" lengthAdjust="spacingAndGlyphs">IMAGE</text>
<text x="135.6" y="947.9" textLength="5" lengthAdjust="spacingAndGlyphs">-</text>
<text x="146" y="947.9" textLength="11.3" lengthAdjust="spacingAndGlyphs">C</text>
</g>

<!-- labels -->
<g>
<text class="lbl" x="101.8" y="188.6">80</text>
<text class="lbl" x="494.5" y="109.8">88</text>
<text class="lbl" x="201.3" y="370.5">81</text>
<text class="lbl" x="235.4" y="558.1">86</text>
<text class="lbl" x="160" y="595.8">82</text>
<text class="lbl" x="288.2" y="610">83</text>
<text class="lbl" x="152.7" y="674.2">85</text>
<text class="lbl" x="384.8" y="684.2">84</text>
<text class="lbl" x="327.9" y="737.6">87</text>
<text class="lbl" x="642.5" y="722.1">90</text>
<text class="lbl" x="458.8" y="745.8">89</text>
<text class="lbl" x="500.9" y="815.6">91</text>
</g>
<!-- leader lines -->
<g class="ld">
<line x1="125.8" y1="176.7" x2="185" y2="153.3"/>
<line x1="487.4" y1="105.5" x2="422" y2="132.2"/>
<line x1="224.4" y1="359.5" x2="281.3" y2="336.3"/>
<line x1="257.7" y1="560.2" x2="349.2" y2="607"/>
<line x1="184.7" y1="592.8" x2="251" y2="627.2"/>
<line x1="297.9" y1="613" x2="331" y2="629.6"/>
<line x1="172.6" y1="676.6" x2="214" y2="697.7"/>
<line x1="642.5" y1="717.9" x2="608.6" y2="731"/>
<line x1="478.8" y1="736.6" x2="505.8" y2="727"/>
<line x1="471" y1="786" x2="499.2" y2="804.4" stroke-dasharray="3 1.8"/>
</g>
</svg>
</body></html>
